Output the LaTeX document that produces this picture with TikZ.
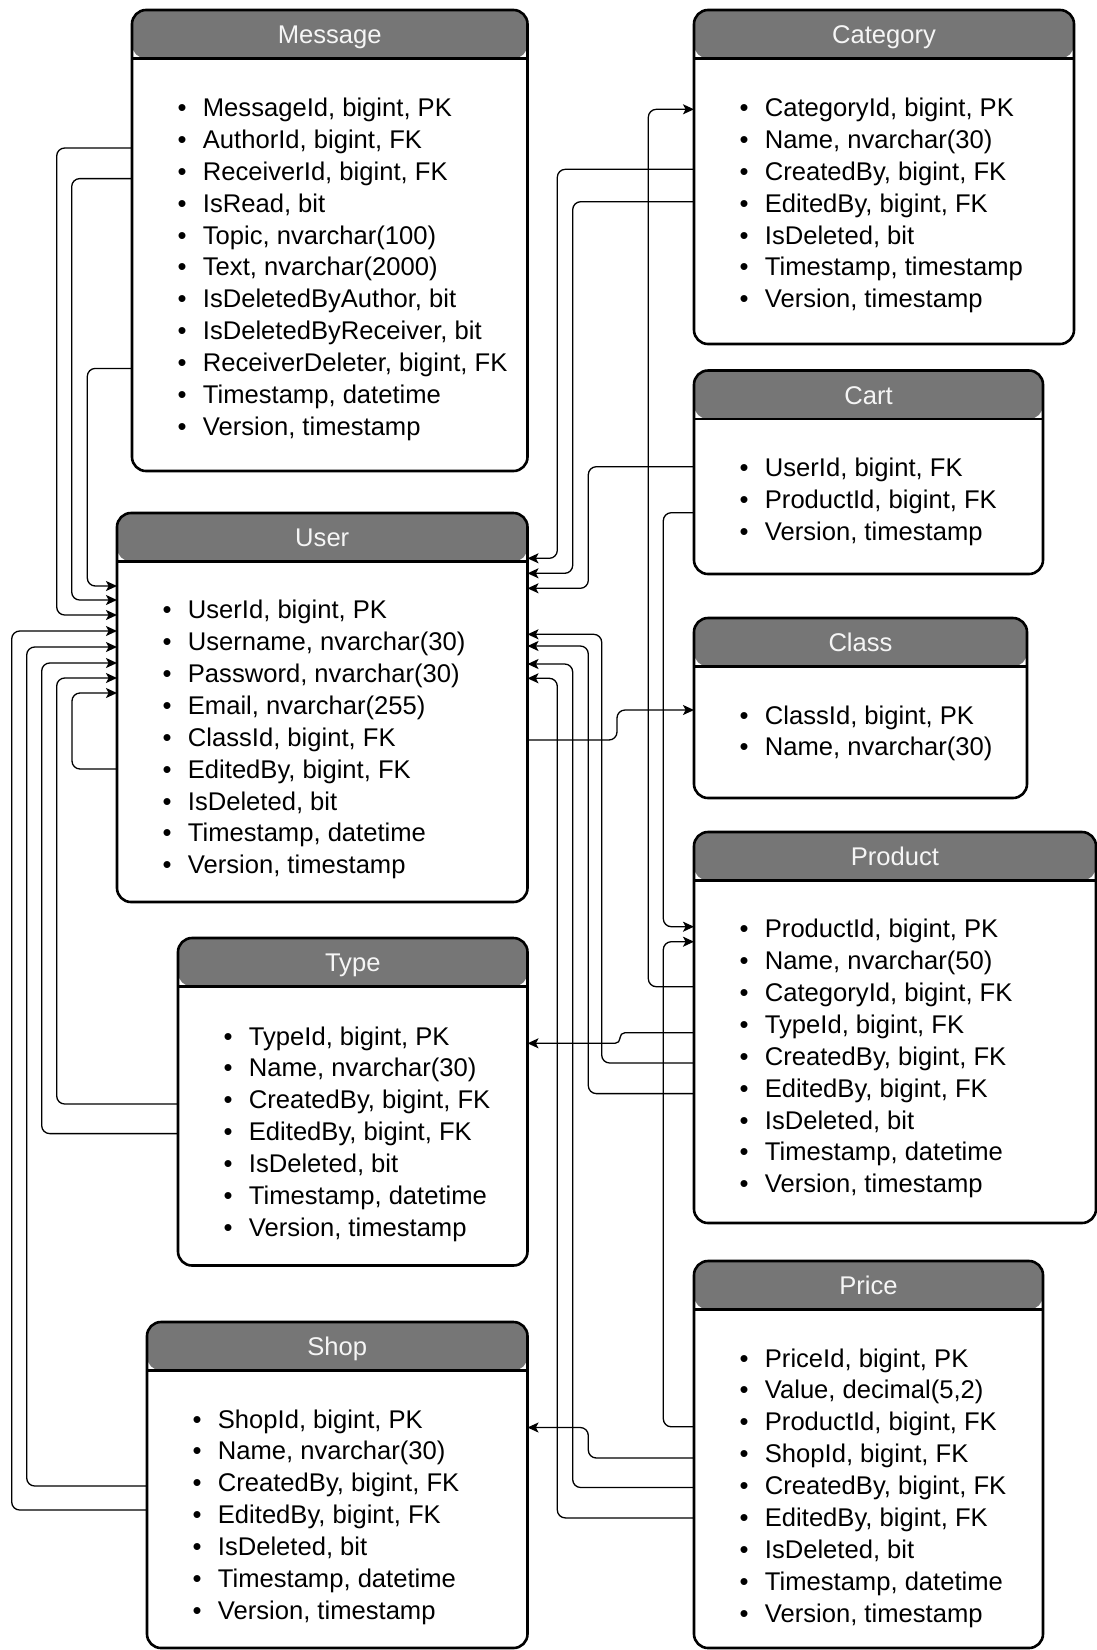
\documentclass[tikz,border=0pt]{standalone}
\usepackage{fontspec}
\setmainfont{Liberation Sans}
\usetikzlibrary{arrows.meta,fit}

\definecolor{hdrgray}{RGB}{118,118,118}
\definecolor{hdrtext}{RGB}{245,245,245}

\tikzset{
  tbl/.style={draw=black, line width=1.3pt, rounded corners=7pt, fill=white,
    inner sep=0pt, outer sep=0pt,
    path picture={\fill[hdrgray] (path picture bounding box.north west)
      rectangle ([yshift=-24.25pt]path picture bounding box.north east);}},
  hdrline/.style={line width=1.3pt},
  ttl/.style={anchor=base, inner sep=0pt, text=hdrtext, font=\fontsize{12.8pt}{15pt}\selectfont},
  bul/.style={anchor=base, inner sep=0pt, font=\fontsize{12.8pt}{15pt}\selectfont},
  rowtxt/.style={anchor=base west, inner sep=0pt, font=\fontsize{12.8pt}{15pt}\selectfont},
  conn/.style={draw=black, line width=0.65pt, rounded corners=4pt,
    -{Stealth[length=5.5pt,width=5pt,inset=1.3pt]}},
}

% #1 name, #2 left, #3 top, #4 right, #5 bottom, #6 title, #7 first row, #8 rows
\newcommand\erentity[8]{%
  \node[tbl, fit={(#2,#3) (#4,#5)}] (#1) {};
  \draw[hdrline] ([yshift=-24.25pt]#1.north west) -- ([yshift=-24.25pt]#1.north east);
  \node[ttl] (#1-title) at ([yshift=-16.75pt]#1.north) {#6};
  \foreach \rowtext [count=\k from 0] in {#8} {
    \node[bul] (#1-b\k) at (#2+50, #7+\k*31.9+8) {\textbullet};
    \node[rowtxt] (#1-r\k) at (#2+70.5, #7+\k*31.9+8) {\rowtext};
  }%
}

\begin{document}
\begin{tikzpicture}[x=0.5pt,y=-0.5pt]
\useasboundingbox (0,0) rectangle (1097,1650);

% ---------- tables ----------
\erentity{message}{132}{10}{527.5}{471}{Message}{108.4}{%
  {MessageId, bigint, PK},{AuthorId, bigint, FK},{ReceiverId, bigint, FK},
  {IsRead, bit},{Topic, nvarchar(100)},{Text, nvarchar(2000)},
  {IsDeletedByAuthor, bit},{IsDeletedByReceiver, bit},
  {ReceiverDeleter, bigint, FK},{Timestamp, datetime},{Version, timestamp}}

\erentity{category}{694}{10}{1074}{344}{Category}{108.4}{%
  {CategoryId, bigint, PK},{Name, nvarchar(30)},{CreatedBy, bigint, FK},
  {EditedBy, bigint, FK},{IsDeleted, bit},{Timestamp, timestamp},{Version, timestamp}}

\erentity{cart}{694}{370.5}{1043}{574}{Cart}{468.5}{%
  {UserId, bigint, FK},{ProductId, bigint, FK},{Version, timestamp}}

\erentity{class}{694}{618}{1027}{798}{Class}{716}{%
  {ClassId, bigint, PK},{Name, nvarchar(30)}}

\erentity{user}{117}{513}{527.5}{902}{User}{610.6}{%
  {UserId, bigint, PK},{Username, nvarchar(30)},{Password, nvarchar(30)},
  {Email, nvarchar(255)},{ClassId, bigint, FK},{EditedBy, bigint, FK},
  {IsDeleted, bit},{Timestamp, datetime},{Version, timestamp}}

\erentity{type}{178}{938}{527.5}{1265.5}{Type}{1037}{%
  {TypeId, bigint, PK},{Name, nvarchar(30)},{CreatedBy, bigint, FK},
  {EditedBy, bigint, FK},{IsDeleted, bit},{Timestamp, datetime},{Version, timestamp}}

\erentity{product}{694}{832}{1096}{1223}{Product}{929.6}{%
  {ProductId, bigint, PK},{Name, nvarchar(50)},{CategoryId, bigint, FK},
  {TypeId, bigint, FK},{CreatedBy, bigint, FK},{EditedBy, bigint, FK},
  {IsDeleted, bit},{Timestamp, datetime},{Version, timestamp}}

\erentity{price}{694}{1261}{1043}{1648}{Price}{1359}{%
  {PriceId, bigint, PK},{Value, decimal(5,2)},{ProductId, bigint, FK},
  {ShopId, bigint, FK},{CreatedBy, bigint, FK},{EditedBy, bigint, FK},
  {IsDeleted, bit},{Timestamp, datetime},{Version, timestamp}}

\erentity{shop}{147}{1322}{527.5}{1648}{Shop}{1420}{%
  {ShopId, bigint, PK},{Name, nvarchar(30)},{CreatedBy, bigint, FK},
  {EditedBy, bigint, FK},{IsDeleted, bit},{Timestamp, datetime},{Version, timestamp}}

% ---------- references into User, left side ----------
\draw[conn] (message.west |- 0,148)   -- (56.7,148)   -- (56.7,615)  -- (user.west |- 0,615);
\draw[conn] (message.west |- 0,178.6) -- (71.7,178.6) -- (71.7,600)  -- (user.west |- 0,600);
\draw[conn] (message.west |- 0,368.4) -- (87.3,368.4) -- (87.3,586)  -- (user.west |- 0,586);
\draw[conn] (shop.west |- 0,1510)     -- (11.7,1510)  -- (11.7,631)  -- (user.west |- 0,631);
\draw[conn] (shop.west |- 0,1486)     -- (26.7,1486)  -- (26.7,647)  -- (user.west |- 0,647);
\draw[conn] (type.west |- 0,1133.6)   -- (41.7,1133.6) -- (41.7,663) -- (user.west |- 0,663);
\draw[conn] (type.west |- 0,1104)     -- (56.7,1104)  -- (56.7,678)  -- (user.west |- 0,678);
\draw[conn] (user.west |- 0,769)      -- (72,769)     -- (72,693)    -- (user.west |- 0,693);

% ---------- references into User, right side ----------
\draw[conn] (category.west |- 0,169.3) -- (557.3,169.3) -- (557.3,558.3) -- (user.east |- 0,558.3);
\draw[conn] (category.west |- 0,201.7) -- (572.7,201.7) -- (572.7,573.3) -- (user.east |- 0,573.3);
\draw[conn] (cart.west |- 0,466.7)     -- (588.3,466.7) -- (588.3,588.3) -- (user.east |- 0,588.3);
\draw[conn] (product.west |- 0,1063)   -- (601.7,1063)  -- (601.7,634.3) -- (user.east |- 0,634.3);
\draw[conn] (product.west |- 0,1093.6) -- (588.3,1093.6) -- (588.3,646)  -- (user.east |- 0,646);
\draw[conn] (price.west |- 0,1487.5)   -- (572.7,1487.5) -- (572.7,664)  -- (user.east |- 0,664);
\draw[conn] (price.west |- 0,1517.9)   -- (557.3,1517.9) -- (557.3,678.3) -- (user.east |- 0,678.3);

% ---------- other references ----------
\draw[conn] (product.west |- 0,986.7) -- (648.3,986.7) -- (648.3,109.3) -- (category.west |- 0,109.3);
\draw[conn] (cart.west |- 0,512.7)    -- (663.3,512.7) -- (663.3,926.7) -- (product.west |- 0,926.7);
\draw[conn] (price.west |- 0,1426.8)  -- (663.3,1426.8) -- (663.3,941.7) -- (product.west |- 0,941.7);
\draw[conn, rounded corners=2.5pt] (product.west |- 0,1032.7) -- (620,1032.7) -- (620,1043.3) -- (type.east |- 0,1043.3);
\draw[conn] (user.east |- 0,740)      -- (617,740)     -- (617,710)     -- (class.west |- 0,710);
\draw[conn] (price.west |- 0,1458)    -- (588.3,1458)  -- (588.3,1427.5) -- (shop.east |- 0,1427.5);
\end{tikzpicture}
\end{document}
